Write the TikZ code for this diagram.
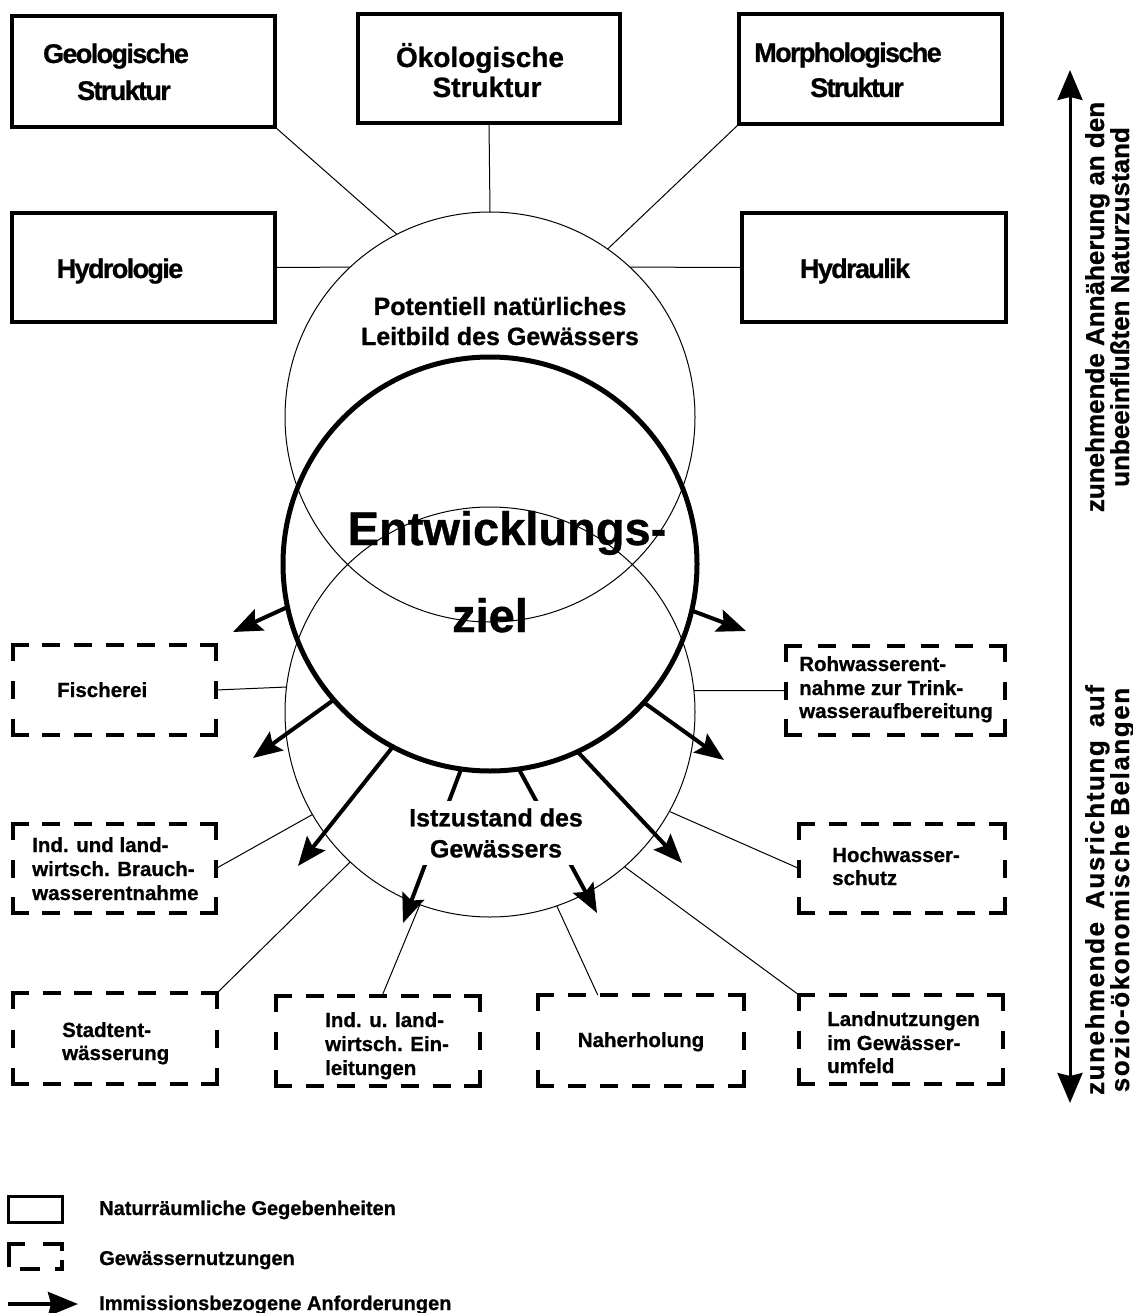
\documentclass[tikz,border=0pt]{standalone}
\usepackage{fontspec}
\setmainfont{Liberation Sans}[BoldFont={Liberation Sans Bold},BoldFeatures={FakeBold=0.8}]
\newfontfamily\condfont{Liberation Sans}[LetterSpace=-6,BoldFont={Liberation Sans Bold},BoldFeatures={FakeBold=0.8}]
\newfontfamily\widefont{Liberation Sans}[LetterSpace=6,BoldFont={Liberation Sans Bold},BoldFeatures={FakeBold=0.8}]
\usetikzlibrary{arrows.meta,calc}
% dashed frame: name, width, height (dashes of 18 at every corner)
\newcommand\dframe[3]{%
 \pgfmathsetmacro\gh{(#2+4.5-126)/6}%
 \pgfmathsetmacro\gv{(#3+4.5-54)/2}%
 \draw[dfr, dash pattern=on 18pt off \gh pt] ($(#1.north west)+(-2.25,0)$) -- ($(#1.north east)+(2.25,0)$);
 \draw[dfr, dash pattern=on 18pt off \gh pt] ($(#1.south west)+(-2.25,0)$) -- ($(#1.south east)+(2.25,0)$);
 \draw[dfr, dash pattern=on 18pt off \gv pt] ($(#1.north west)+(0,-2.25)$) -- ($(#1.south west)+(0,2.25)$);
 \draw[dfr, dash pattern=on 18pt off \gv pt] ($(#1.north east)+(0,-2.25)$) -- ($(#1.south east)+(0,2.25)$);}
\begin{document}
\begin{tikzpicture}[x=1pt,y=-1pt,
  thin/.style={line width=1pt},
  sbox/.style={draw, line width=3.5pt, inner sep=0pt, outer sep=0pt},
  ubox/.style={inner sep=0pt, outer sep=0pt},
  dfr/.style={line width=4.5pt, line cap=butt},
  ring/.style={circle, draw, inner sep=0pt, outer sep=0pt},
  req/.style={line width=4pt, -{Stealth[length=29pt,width=23pt,inset=5pt]}},
  tl/.style={inner sep=0pt, anchor=base west, font=\fontsize{20.5}{24}\selectfont\bfseries},
  tc/.style={inner sep=0pt, anchor=base},
  bl/.style={tc, font=\fontsize{27}{32}\selectfont\condfont\bfseries},
  bn/.style={tc, font=\fontsize{28}{32}\selectfont\bfseries},
  rt/.style={tc, rotate=90, font=\fontsize{26}{26}\selectfont\bfseries},
  rw/.style={tc, rotate=90, font=\fontsize{26}{26}\selectfont\widefont\bfseries},
  lg/.style={inner sep=0pt, anchor=base west, font=\fontsize{20}{24}\selectfont\bfseries},
]
\useasboundingbox (0,0) rectangle (1132,1313);

% circles
\node[ring, thin, minimum size=410pt] (lb) at (490,417) {};
\node[ring, thin, minimum size=410pt] (iz) at (490,712) {};
\node[ring, line width=5pt, minimum size=414pt] (ez) at (490,564) {};

% natural boxes
\node[sbox, minimum width=263pt, minimum height=111pt] (geo) at (143.5,71.5) {};
\node[sbox, minimum width=262pt, minimum height=109pt] (oko) at (489,68.5) {};
\node[sbox, minimum width=263pt, minimum height=110pt] (mor) at (870.5,69) {};
\node[sbox, minimum width=263pt, minimum height=109pt] (hyo) at (143.5,267.5) {};
\node[sbox, minimum width=264pt, minimum height=109pt] (hya) at (874,267.5) {};

\draw[thin] (geo.south east) -- (lb.117);
\draw[thin] (oko.south) -- (lb.north);
\draw[thin] (mor.south west) -- (lb.55.5);
\draw[thin] (hyo.east) -- (lb.133);
\draw[thin] (hya.west) -- (lb.47);

\node[bl] (geot1) at (116,63) {Geologische};
\node[bl] (geot2) at (124,100) {Struktur};
\node[bn] (okot1) at (480,67) {Ökologische};
\node[bn] (okot2) at (487,97) {Struktur};
\node[bl] (mort1) at (848,62) {Morphologische};
\node[bl] (mort2) at (857,97) {Struktur};
\node[bl] (hyot) at (120,278) {Hydrologie};
\node[bl] (hyat) at (855,278) {Hydraulik};

% use boxes
\node[ubox, minimum width=203pt, minimum height=90pt] (fi) at (114.5,690) {};
\node[ubox, minimum width=203pt, minimum height=89pt] (bw) at (114.5,868.5) {};
\node[ubox, minimum width=219pt, minimum height=89pt] (rw) at (895.5,690.5) {};
\node[ubox, minimum width=206pt, minimum height=89pt] (hw) at (902,868.5) {};
\node[ubox, minimum width=204pt, minimum height=91pt] (st) at (115,1038.5) {};
\node[ubox, minimum width=204pt, minimum height=90pt] (ei) at (378,1041) {};
\node[ubox, minimum width=206pt, minimum height=91pt] (nh) at (641,1040.5) {};
\node[ubox, minimum width=204pt, minimum height=89pt] (ln) at (901,1039.5) {};
\dframe{fi}{203}{90}\dframe{bw}{203}{89}\dframe{rw}{219}{89}\dframe{hw}{206}{89}
\dframe{st}{204}{91}\dframe{ei}{204}{90}\dframe{nh}{206}{91}\dframe{ln}{204}{89}

\draw[thin] (fi.east) -- (iz.173.8);
\draw[thin] (rw.west) -- (iz.6.2);
\draw[thin] (bw.east) -- (iz.210);
\draw[thin] (hw.west) -- (iz.331);
\draw[thin] (st.north east) -- (iz.227.6);
\draw[thin] ($(ei.north)+(4,0)$) -- (iz.250.3);
\draw[thin] ($(nh.north west)!0.29!(nh.north east)$) -- (iz.289.7);
\draw[thin] (ln.north west) -- (iz.311.7);

\node[tl] (fit) at (57,697) {Fischerei};
\node[tl] (bwt1) at (32,852) {Ind. und land-};
\node[tl] (bwt2) at (32,876) {wirtsch. Brauch-};
\node[tl] (bwt3) at (32,900) {wasserentnahme};
\node[tl] (rwt1) at (799,671) {Rohwasserent-};
\node[tl] (rwt2) at (799,695) {nahme zur Trink-};
\node[tl] (rwt3) at (799,718) {wasseraufbereitung};
\node[tl] (hwt1) at (832,862) {Hochwasser-};
\node[tl] (hwt2) at (832,885) {schutz};
\node[tl] (stt1) at (62,1037) {Stadtent-};
\node[tl] (stt2) at (62,1060) {wässerung};
\node[tl] (eit1) at (325,1027) {Ind. u. land-};
\node[tl] (eit2) at (325,1051) {wirtsch. Ein-};
\node[tl] (eit3) at (325,1075) {leitungen};
\node[tl, anchor=base] (nht) at (641,1047) {Naherholung};
\node[tl] (lnt1) at (827,1026) {Landnutzungen};
\node[tl] (lnt2) at (827,1050) {im Gewässer-};
\node[tl] (lnt3) at (827,1073) {umfeld};

% requirement arrows
\coordinate (t1) at (233,632);
\coordinate (t2) at (253,758);
\coordinate (t3) at (298,866);
\coordinate (t4) at (403,923);
\coordinate (t5) at (597,913);
\coordinate (t6) at (682,863);
\coordinate (t7) at (724,760);
\coordinate (t8) at (746,631);
\draw[req] (ez.192.4) -- (t1);
\draw[req] (ez.221.3) -- (t2);
\draw[req] (ez.242.7) -- (t3);
\draw[req] (ez.262.2) -- (t4);
\draw[req] (ez.278.3) -- (t5);
\draw[req] (ez.295.6) -- (t6);
\draw[req] (ez.318.3) -- (t7);
\draw[req] (ez.347.2) -- (t8);

% circle texts
\node[tc, font=\fontsize{25}{30}\selectfont\bfseries] (lbt1) at (500,315) {Potentiell natürliches};
\node[tc, font=\fontsize{25}{30}\selectfont\bfseries] (lbt2) at (500,345) {Leitbild des Gewässers};
\node[tc, font=\fontsize{47}{50}\selectfont\bfseries] (ezt1) at (507,545) {Entwicklungs-};
\node[tc, font=\fontsize{47}{50}\selectfont\bfseries] (ezt2) at (490,632) {ziel};
\node[fill=white, inner xsep=3pt, inner ysep=7pt, align=center, font=\fontsize{25}{31}\selectfont\bfseries] (izt) at (496,833) {Istzustand des\\Gewässers};

% right axis
\coordinate (ra) at (1070,70);
\coordinate (rb) at (1070,1103);
\draw[line width=3pt, {Stealth[length=30pt,width=25pt,inset=3pt]}-{Stealth[length=30pt,width=25pt,inset=3pt]}] (rb) -- (ra);
\node[rt] (rt1) at (1104,307) {zunehmende Annäherung an den};
\node[rt] (rt2) at (1129,307) {unbeeinflußten Naturzustand};
\node[rw] (rt3) at (1104,890) {zunehmende\hspace{0.5em}Ausrichtung\hspace{0.5em}auf};
\node[rw] (rt4) at (1129,890) {sozio-ökonomische Belangen};

% legend
\node[sbox, line width=3pt, minimum width=54pt, minimum height=26pt] (lg1) at (35.5,1209.5) {};
\draw[line width=4.5pt] (9,1267) |- (25,1244);
\draw[line width=4.5pt] (43,1244) -| (62,1251);
\draw[line width=4.5pt] (20,1269) -- (40,1269);
\draw[line width=4.5pt] (55,1269) -| (62,1260);
\coordinate (la1) at (8,1304);
\coordinate (la2) at (78,1304);
\draw[line width=4pt, -{Stealth[length=30pt,width=24pt,inset=3pt]}] (la1) -- (la2);
\node[lg] (lgt1) at (99,1215) {Naturräumliche Gegebenheiten};
\node[lg] (lgt2) at (99,1265) {Gewässernutzungen};
\node[lg] (lgt3) at (99,1310) {Immissionsbezogene Anforderungen};
\end{tikzpicture}
\end{document}
